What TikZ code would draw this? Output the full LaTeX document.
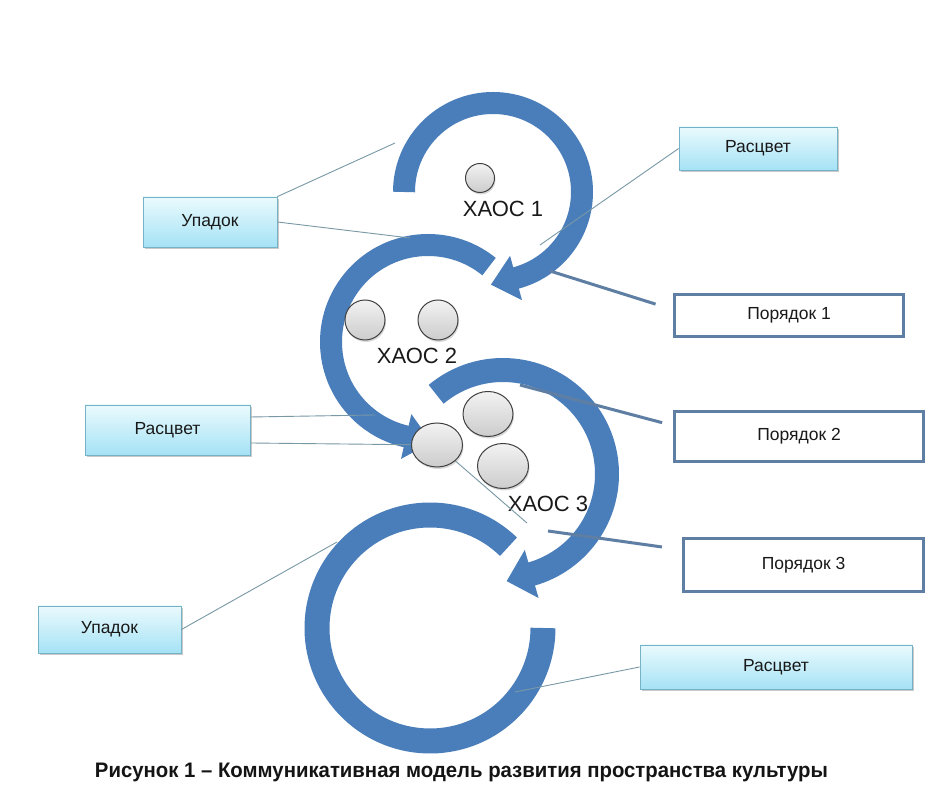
\documentclass[tikz,border=0pt]{standalone}
\usepackage{fontspec}
\usepackage{graphicx}
\setmainfont{Liberation Sans}
\usetikzlibrary{calc,shapes.geometric,shadows}
\definecolor{arcblue}{RGB}{74,126,187}
\definecolor{porborder}{RGB}{94,127,163}
\definecolor{conn}{RGB}{120,152,166}
\definecolor{boxtop}{RGB}{234,250,253}
\definecolor{boxbot}{RGB}{165,226,245}
\definecolor{boxedge}{RGB}{118,178,198}
\newcommand\bxfont{\fontsize{17.5}{20}\selectfont}
\newcommand\chfont{\fontsize{22}{25}\selectfont}
\newcommand\capfnt{\fontsize{21}{24}\bfseries\selectfont}
\tikzset{
  bluebox/.style={draw=boxedge, line width=0.8pt, top color=boxtop, bottom color=boxbot,
    drop shadow={shadow xshift=1.5pt, shadow yshift=-2.5pt, opacity=0.35, fill=black!60},
    inner sep=0pt, font=\bxfont, text=black!90},
  porbox/.style={draw=porborder, line width=3.5pt, fill=white, inner sep=0pt, font=\bxfont, text=black!90},
  ball/.style={ellipse, draw=black!75, line width=1pt, top color=gray!10, bottom color=gray!40,
    inner sep=0pt, drop shadow={shadow xshift=1pt, shadow yshift=-2pt, opacity=0.25, fill=black!60}},
  conline/.style={draw=conn, line width=0.9pt},
  ordline/.style={draw=porborder, line width=3pt},
  chaos/.style={font=\chfont, text=black!90, inner sep=0pt},
  band/.style={draw=arcblue}
}
\begin{document}
\begin{tikzpicture}[x=1pt,y=1pt]
\fill[white] (0,0) rectangle (945,803);
\useasboundingbox (0,0) rectangle (945,803);

% centres of the circular arrows
\coordinate (C1) at (493,611);
\coordinate (C2) at (428,461);
\coordinate (C3) at (503,329);
\coordinate (C4) at (430,175);

% arc 1 (top, clockwise)
\draw[band, line width=22pt] ($(C1)+(180:89)$) arc[start angle=180, end angle=-76, radius=89];
\fill[arcblue] ($(C1)+(-75:66)$) -- ($(C1)+(-75:112)$) -- ($(C1)+(-75:89)+(-165:26)$) -- cycle;

% arc 2 (middle left, counter-clockwise)
\draw[band, line width=22pt] ($(C2)+(51:97)$) arc[start angle=51, end angle=258, radius=97];
\fill[arcblue] ($(C2)+(257:74)$) -- ($(C2)+(257:120)$) -- ($(C2)+(257:97)+(347:26)$) -- cycle;

% arc 3 (middle right, clockwise)
\draw[band, line width=24pt] ($(C3)+(130:104)$) arc[start angle=130, end angle=-75, radius=104];
\fill[arcblue] ($(C3)+(-74:79)$) -- ($(C3)+(-74:129)$) -- ($(C3)+(-74:104)+(-164:26)$) -- cycle;

% arc 4 (bottom, open ring)
\draw[band, line width=25pt] ($(C4)+(46:113)$) arc[start angle=46, end angle=360, radius=113];

% boxes
\node[bluebox, minimum width=134pt, minimum height=50pt] (upad1) at (210,581) {Упадок};
\node[bluebox, minimum width=158pt, minimum height=43pt] (rasc1) at (758,654.5) {Расцвет};
\node[bluebox, minimum width=165pt, minimum height=50pt] (rasc2) at (167.5,373) {Расцвет};
\node[bluebox, minimum width=143pt, minimum height=47pt] (upad2) at (109.5,173.5) {Упадок};
\node[bluebox, minimum width=272pt, minimum height=44pt] (rasc3) at (776,136) {Расцвет};
\node[porbox, minimum width=229pt, minimum height=42pt] (por1) at (789,487.5) {Порядок 1};
\node[porbox, minimum width=249pt, minimum height=50pt] (por2) at (799,366.5) {Порядок 2};
\node[porbox, minimum width=240pt, minimum height=53pt] (por3) at (803.5,238) {Порядок 3};

% balls
\node[ball, minimum width=29pt, minimum height=29pt] (b1) at (480,625) {};
\node[ball, minimum width=40pt, minimum height=40pt] (b2a) at (365,483) {};
\node[ball, minimum width=40pt, minimum height=40pt] (b2b) at (438,483) {};
\node[ball, minimum width=50pt, minimum height=45pt] (b3a) at (488,389) {};
\node[ball, minimum width=51pt, minimum height=44pt] (b3b) at (437,358) {};
\node[ball, minimum width=51pt, minimum height=45pt] (b3c) at (503,337) {};

% chaos labels
\node[chaos] (h1) at (503,594) {ХАОС 1};
\node[chaos] (h2) at (417,447) {ХАОС 2};
\node[chaos] (h3) at (548,299) {ХАОС 3};

% connector free ends
\coordinate (e1) at (395,660);
\coordinate (e2) at (410,565);
\coordinate (e3) at (540,558);
\coordinate (e4) at (550,532);
\coordinate (e5) at (520,418);
\coordinate (e6) at (548,272);
\coordinate (e7) at (375,388);
\coordinate (e8) at (527,280);
\coordinate (e9) at (337,261);
\coordinate (e10) at (515,111);

% connectors
\draw[conline] (upad1.north east) -- (e1);
\draw[conline] (upad1.east) -- (e2);
\draw[conline] (rasc1.west) -- (e3);
\draw[ordline, shorten >=18pt] (e4) -- ($(por1.west)+(0,6)$);
\draw[ordline, shorten >=11pt] (e5) -- ($(por2.west)+(0,11)$);
\draw[ordline, shorten >=20pt] (e6) -- ($(por3.north west)+(0,-13)$);
\draw[conline] ($(rasc2.east)+(0,13)$) -- (e7);
\draw[conline] ($(rasc2.east)+(0,-13)$) -- (b3b);
\draw[conline] (b3b) -- (e8);
\draw[conline] (upad2.east) -- (e9);
\draw[conline] (rasc3.west) -- (e10);

% caption
\node[inner sep=0pt, text=black!92] (cap) at (461.5,31) {\resizebox{733pt}{\height}{\capfnt Рисунок 1 – Коммуникативная модель развития пространства культуры}};
\end{tikzpicture}
\end{document}
